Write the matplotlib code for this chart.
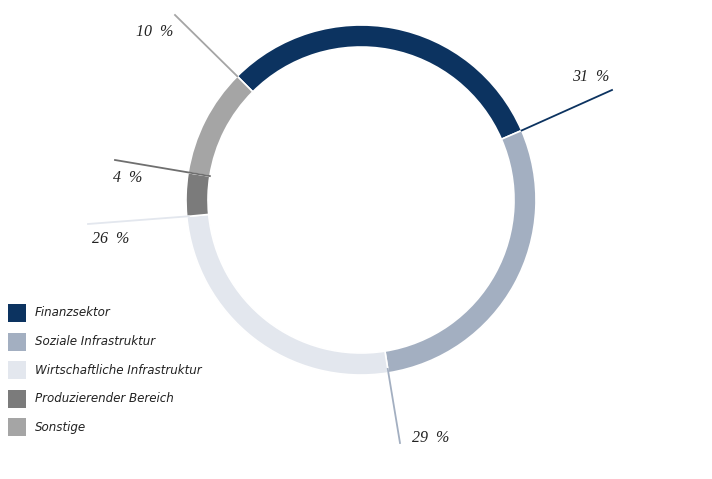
import numpy as np
import matplotlib
matplotlib.use('Agg')
import matplotlib.pyplot as plt

# 数据
kategorien = ['Finanzsektor', 'Soziale Infrastruktur', 'Wirtschaftliche Infrastruktur',
              'Produzierender Bereich', 'Sonstige']
anteile = [31, 29, 26, 4, 10]
labels = ['31  %', '29  %', '26  %', '4  %', '10  %']
farben = ['#0c3360', '#a3afc1', '#e3e7ee', '#7b7b7b', '#a5a5a5']
linienfarben = ['#0c3360', '#a3afc1', '#e3e7ee', '#6f6f6f', '#a5a5a5']

# 布局 (像素坐标, y 向上)
W, H = 712, 479
cx, cy = 361, H - 200
R = 175
breite = 22
# 引线终点和标签位置
linien_ende = [(612, H - 90), (400, H - 443), (88, H - 224), (115, H - 160), (175, H - 15)]
start_r = [R, R - 4, R - 2, R - breite, R]
label_pos = [(591, H - 77), (431, H - 438), (111, H - 239), (128, H - 178), (155, H - 32)]

fig = plt.figure(figsize=(7.12, 4.79), dpi=100)
ax = fig.add_axes([0, 0, 1, 1])
ax.set_xlim(0, W)
ax.set_ylim(0, H)
ax.axis('off')

wedges, _ = ax.pie(anteile, colors=farben, startangle=135, counterclock=False,
                   center=(cx, cy), radius=R,
                   wedgeprops=dict(width=breite, edgecolor='white', linewidth=1.2))
ax.set_xlim(0, W)
ax.set_ylim(0, H)
ax.set_aspect('auto')

# 引线
for i, w in enumerate(wedges):
    ang = np.deg2rad(min(w.theta1, w.theta2))
    x0 = cx + start_r[i] * np.cos(ang)
    y0 = cy + start_r[i] * np.sin(ang)
    x1, y1 = linien_ende[i]
    ax.plot([x0, x1], [y0, y1], color=linienfarben[i], lw=1.3, zorder=5)
    ax.text(label_pos[i][0], label_pos[i][1], labels[i], fontsize=11.5,
            family='Liberation Serif', style='italic', color='#222222',
            ha='center', va='center')

# 图例
for i, k in enumerate(kategorien):
    y = H - (313 + i * 28.5)
    ax.add_patch(plt.Rectangle((8, y - 9), 18, 18, color=farben[i], lw=0))
    ax.text(35, y, k, fontsize=8.6, family=['Liberation Sans Narrow', 'DejaVu Sans'],
            style='italic', color='#222222', va='center', ha='left')

fig.savefig('out.png', dpi=100)
